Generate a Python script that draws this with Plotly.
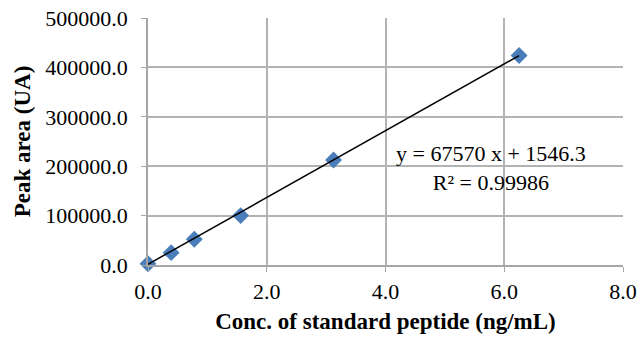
import plotly.graph_objects as go

conc = [0.0, 0.39, 0.78, 1.56, 3.125, 6.25]
area = [2500, 25000, 52000, 100000, 212500, 424000]
slope = 67570
intercept = 1546.3
fit_x = [min(conc), max(conc)]
fit_y = [slope * v + intercept for v in fit_x]
x_ticks = [0, 2, 4, 6, 8]
y_ticks = [0, 100000, 200000, 300000, 400000, 500000]

fig = go.Figure()
fig.add_trace(go.Scatter(x=conc, y=area, mode="markers",
                         marker=dict(symbol="diamond", size=13, color="#4a7ebb",
                                     line=dict(width=0)),
                         cliponaxis=False, showlegend=False))
fig.add_trace(go.Scatter(x=fit_x, y=fit_y, mode="lines",
                         line=dict(color="black", width=1.5),
                         cliponaxis=False, showlegend=False))

font = "Liberation Serif"
fig.add_annotation(x=5.77, y=196000, xref="x", yref="y",
                   text="y = 67570 x + 1546.3<br>R² = 0.99986",
                   showarrow=False, align="center",
                   font=dict(family=font, size=22, color="black"))

fig.update_layout(
    width=638, height=340,
    margin=dict(l=148, r=15, t=18, b=75),
    paper_bgcolor="white", plot_bgcolor="white",
    font=dict(family=font, size=22, color="black"),
    xaxis=dict(range=[0, 8], tickvals=x_ticks, tickformat=".1f",
               tickfont=dict(family=font, size=22, color="black"),
               ticklabelstandoff=1,
               showgrid=True, gridcolor="#b3b3b3", gridwidth=1.5,
               showline=True, linecolor="#a6a6a6", linewidth=1.5,
               ticks="outside", ticklen=5, tickcolor="#a6a6a6",
               zeroline=False, automargin=False,
               title=dict(text="<b>Conc. of standard peptide (ng/mL)</b>",
                          font=dict(family=font, size=23), standoff=10)),
    yaxis=dict(range=[0, 500000], tickvals=y_ticks, tickformat=".1f",
               tickfont=dict(family=font, size=22, color="black"),
               ticklabelstandoff=9,
               showgrid=True, gridcolor="#b3b3b3", gridwidth=1.5,
               showline=True, linecolor="#a6a6a6", linewidth=1.5,
               ticks="outside", ticklen=5, tickcolor="#a6a6a6",
               zeroline=False, automargin=False,
               title=dict(text="<b>Peak area (UA)</b>",
                          font=dict(family=font, size=23), standoff=8)),
)

fig.write_html("out.html")
